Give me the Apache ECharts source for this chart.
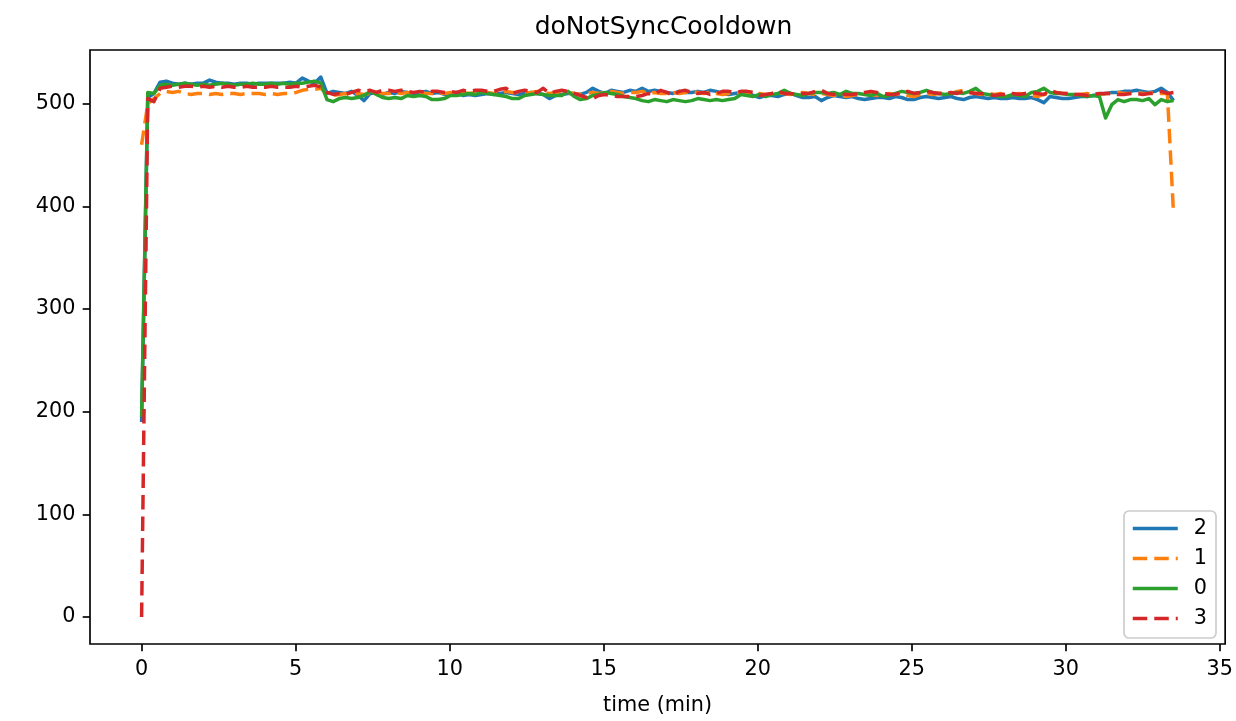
<!DOCTYPE html>
<html>
<head>
<meta charset="utf-8">
<script src="https://cdn.jsdelivr.net/npm/echarts@6/dist/echarts.min.js"></script>
<style>
html,body{margin:0;padding:0;background:#ffffff;}
#chart{width:1236px;height:721px;}
</style>
</head>
<body>
<div id="chart"></div>
<script>
// ---- data ----
const chartTitle = 'doNotSyncCooldown';
const xAxisName = 'time (min)';
const seriesNames = ['2', '1', '0', '3'];
const xTickValues = [0, 5, 10, 15, 20, 25, 30, 35];
const yTickValues = [0, 100, 200, 300, 400, 500];
// samples taken every ~0.2 min, last sample at 33.5 min
const lastSampleMinute = 33.5;

const series2 = [
  190,506,510,521,522,520,519,520,519,520,
  520,523,521,520,520,519,520,520,519,520,
  520,520,520,520,521,520,525,522,520,526,
  510,512,511,510,512,508,503,510,511,509,
  511,510,512,511,509,511,512,510,511,509,
  510,511,508,509,508,509,510,509,510,511,
  510,509,510,511,510,509,505,508,509,510,
  510,509,511,515,512,510,513,512,511,513,
  512,515,512,513,512,511,510,512,511,511,
  512,511,513,512,510,509,510,511,510,508,
  506,508,508,507,509,510,508,506,506,507,
  503,506,508,507,506,507,505,504,505,506,
  506,505,507,506,504,504,506,507,506,505,
  506,507,505,504,506,507,506,505,506,505,
  505,506,505,505,506,504,501,507,506,505,
  505,506,507,507,508,509,510,511,511,512,
  512,513,512,511,512,515,511,503
];
const series1 = [
  460,500,505,510,512,511,512,510,509,510,
  510,509,510,509,510,510,509,510,510,510,
  509,510,509,510,510,511,513,514,514,515,
  509,508,509,510,509,510,509,510,509,510,
  510,511,510,511,510,511,510,510,511,510,
  511,510,511,510,511,512,511,510,511,512,
  511,511,510,511,512,511,510,511,512,511,
  510,509,510,511,510,511,512,511,510,511,
  511,512,510,511,510,510,511,510,511,512,
  511,510,511,510,509,510,511,510,509,510,
  510,509,510,511,510,509,510,511,510,509,
  510,509,508,509,507,508,509,510,509,508,
  509,510,509,510,508,507,509,510,509,510,
  511,510,512,513,511,510,509,510,509,510,
  508,509,510,509,508,507,509,510,511,510,
  510,509,509,510,508,509,510,510,511,510,
  510,511,510,510,511,510,510,392
];
const series0 = [
  195,511,510,518,519,518,519,520,519,518,
  519,518,519,520,519,518,519,519,520,519,
  519,520,519,520,519,520,520,521,522,520,
  504,502,505,506,505,506,508,512,509,506,
  505,506,505,508,507,508,507,504,504,505,
  508,508,509,510,509,511,510,509,508,507,
  505,505,508,509,510,509,508,508,508,512,
  507,504,505,508,509,511,510,509,507,506,
  505,503,502,504,503,502,504,503,502,503,
  505,504,503,504,503,504,505,509,508,507,
  509,507,509,510,513,510,509,508,510,511,
  511,510,511,509,512,510,510,509,508,510,
  507,508,510,512,511,510,511,513,511,510,
  509,510,511,510,512,515,510,509,508,507,
  507,509,508,507,511,512,515,511,510,510,
  509,509,508,507,508,507,486,499,504,502,
  504,504,503,505,499,504,502,503
];
const series3 = [
  0,505,502,515,516,517,516,517,517,516,
  517,516,517,516,517,516,516,517,516,516,
  516,517,516,516,516,517,516,517,518,516,
  511,509,510,509,511,513,512,513,511,513,
  513,512,513,512,511,512,511,512,512,511,
  512,511,513,512,513,513,512,512,514,515,
  510,512,513,512,511,515,510,512,513,512,
  510,508,506,505,508,509,508,507,507,507,
  507,508,510,509,513,511,508,512,513,511,
  510,511,509,510,512,512,511,512,512,511,
  508,509,510,512,510,510,509,510,510,512,
  513,510,509,510,509,509,510,511,512,511,
  510,509,509,511,512,510,511,512,511,510,
  510,511,510,512,511,510,510,509,508,509,
  509,510,509,510,511,510,509,513,511,510,
  510,509,509,508,509,510,510,510,509,509,
  510,510,509,510,510,512,510,511
];

// ---- build ----
const valueSets = [series2, series1, series0, series3];
const colors = ['#1f77b4', '#ff7f0e', '#2ca02c', '#d62728'];
const dashed = [false, true, false, true];
const FONT = 'DejaVu Sans';
const LW = 3.5;
const DASH = [14.5, 7];

const period = lastSampleMinute / (series2.length - 1);
function toPairs(arr) { return arr.map((v, i) => [i * period, v]); }

let yMaxData = -Infinity, yMinData = Infinity;
valueSets.forEach(a => a.forEach(v => { if (v > yMaxData) yMaxData = v; if (v < yMinData) yMinData = v; }));
const xPad = 0.05 * lastSampleMinute;
const yPad = 0.05 * (yMaxData - yMinData);

const chart = echarts.init(document.getElementById('chart'), null, {renderer: 'canvas'});
const option = {
  animation: false,
  backgroundColor: '#ffffff',
  title: {
    text: chartTitle,
    left: 658.5,
    top: 10,
    textAlign: 'center',
    textStyle: {fontFamily: FONT, fontSize: 25, fontWeight: 'normal', color: '#000'}
  },
  grid: {
    left: 90, right: 9, top: 50, bottom: 72,
    show: true, borderColor: '#000', borderWidth: 1.67, backgroundColor: 'transparent'
  },
  legend: {
    data: seriesNames,
    orient: 'vertical',
    right: 20,
    bottom: 83,
    itemWidth: 45,
    itemHeight: 14,
    itemGap: 9,
    padding: [7, 9, 9, 7],
    backgroundColor: 'rgba(255,255,255,0.8)',
    borderColor: '#cccccc',
    borderWidth: 1.67,
    borderRadius: 5,
    itemStyle: {color: 'rgba(0,0,0,0)', borderColor: 'rgba(0,0,0,0)', borderWidth: 0},
    lineStyle: {width: LW},
    textStyle: {fontFamily: FONT, fontSize: 20.8, color: '#000', padding: [0, 0, 0, 11]},
    selectedMode: false
  },
  xAxis: {
    type: 'value',
    min: -xPad,
    max: lastSampleMinute + xPad,
    splitLine: {show: false},
    axisLine: {show: false, onZero: false},
    axisTick: {show: true, length: 7.3, lineStyle: {color: '#000', width: 1.67}, customValues: xTickValues},
    axisLabel: {customValues: xTickValues, margin: 15, color: '#000', fontSize: 20.8, fontFamily: FONT},
    name: xAxisName,
    nameLocation: 'middle',
    nameGap: 51,
    nameTextStyle: {fontFamily: FONT, fontSize: 20.8, color: '#000'}
  },
  yAxis: {
    type: 'value',
    min: yMinData - yPad,
    max: yMaxData + yPad,
    splitLine: {show: false},
    axisLine: {show: false, onZero: false},
    axisTick: {show: true, length: 7.3, lineStyle: {color: '#000', width: 1.67}, customValues: yTickValues},
    axisLabel: {customValues: yTickValues, margin: 14.6, color: '#000', fontSize: 20.8, fontFamily: FONT}
  },
  series: seriesNames.map((name, k) => ({
    name: name,
    type: 'line',
    data: toPairs(valueSets[k]),
    symbol: 'none',
    showSymbol: false,
    silent: true,
    emphasis: {disabled: true},
    itemStyle: {color: colors[k]},
    lineStyle: {color: colors[k], width: LW, type: dashed[k] ? DASH : 'solid', cap: 'butt', join: 'round'},
    z: 2 + k
  }))
};
chart.setOption(option);
</script>
</body>
</html>
